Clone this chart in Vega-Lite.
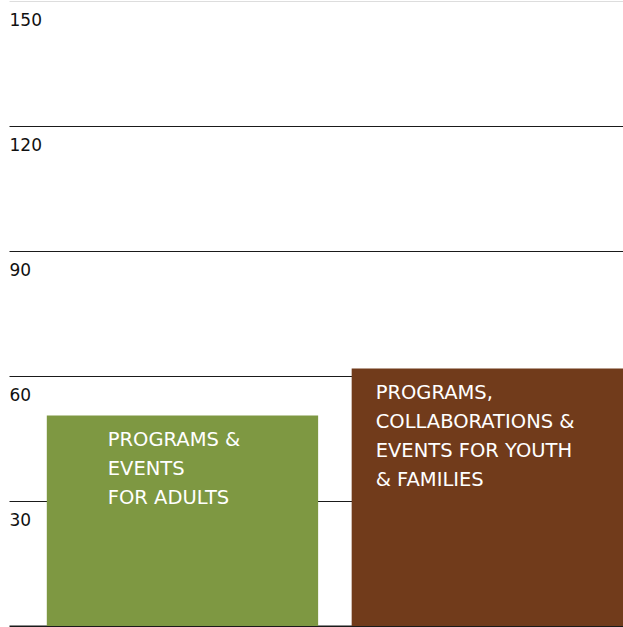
{
  "$schema": "https://vega.github.io/schema/vega-lite/v6.json",
  "width": 614,
  "height": 625,
  "autosize": {"type": "none"},
  "padding": {"left": 9, "top": 1, "right": 0, "bottom": 1},
  "background": "white",
  "config": {"view": {"stroke": null}, "text": {"lineBreak": "\n"}},
  "data": {"values": [
    {"category": "Adults", "value": 50.5, "label": "PROGRAMS &\nEVENTS\nFOR ADULTS"},
    {"category": "Youth", "value": 61.8, "label": "PROGRAMS,\nCOLLABORATIONS &\nEVENTS FOR YOUTH\n& FAMILIES"}
  ]},
  "encoding": {
    "x": {"field": "category", "type": "nominal", "sort": null,
      "scale": {"paddingInner": 0.11, "paddingOuter": 0.062, "align": 1},
      "axis": null},
    "y": {"field": "value", "type": "quantitative",
      "scale": {"domain": [0, 150], "nice": false, "zero": true},
      "axis": {"title": null, "values": [0, 30, 60, 90, 120, 150], "domain": false, "ticks": false,
        "labelAlign": "left", "labelBaseline": "middle", "labelPadding": 0, "labelOffset": 19,
        "labelExpr": "datum.value == 0 ? '' : datum.label",
        "labelFont": "DejaVu Sans", "labelFontSize": 17, "labelColor": "#111",
        "gridColor": {"condition": {"test": "datum.value == 150", "value": "#dddddd"}, "value": "#1a1a1a"},
        "gridWidth": {"condition": {"test": "datum.value == 0", "value": 2}, "value": 1.2},
        "gridOpacity": 1}}
  },
  "layer": [
    {"mark": {"type": "bar"},
     "encoding": {"color": {"field": "category", "type": "nominal", "legend": null,
       "scale": {"domain": ["Adults", "Youth"], "range": ["#7e9842", "#713b1b"]}}}},
    {"transform": [{"filter": "datum.category == 'Adults'"}],
     "mark": {"type": "text", "align": "left", "baseline": "alphabetic", "dx": 61, "dy": 30, "lineHeight": 29,
       "font": "DejaVu Sans", "fontSize": 19.5, "color": "white"},
     "encoding": {"x": {"field": "category", "type": "nominal", "sort": null, "bandPosition": 0}, "text": {"field": "label"}}},
    {"transform": [{"filter": "datum.category == 'Youth'"}],
     "mark": {"type": "text", "align": "left", "baseline": "alphabetic", "dx": 24, "dy": 30, "lineHeight": 29,
       "font": "DejaVu Sans", "fontSize": 19.5, "color": "white"},
     "encoding": {"x": {"field": "category", "type": "nominal", "sort": null, "bandPosition": 0}, "text": {"field": "label"}}}
  ]
}
